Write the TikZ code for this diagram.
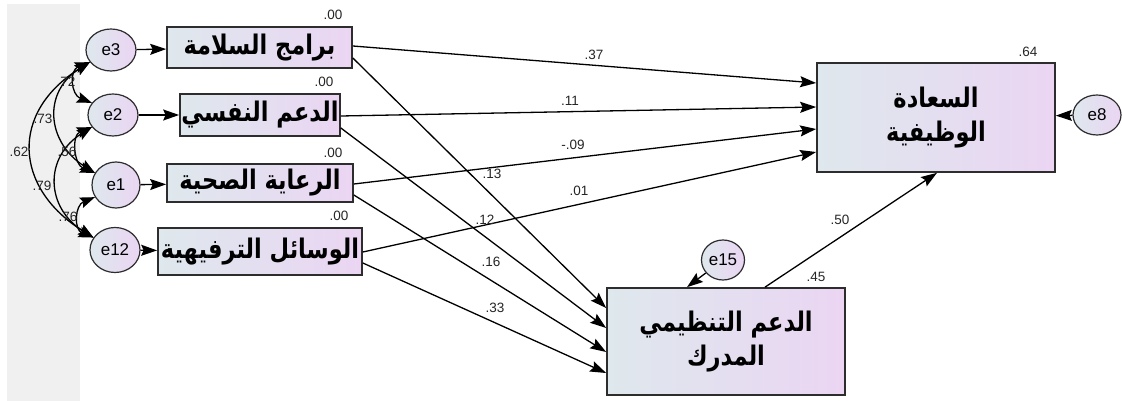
\documentclass[tikz,border=0pt]{standalone}
\usepackage{fontspec}
\setmainfont{Liberation Sans}
\newfontfamily\arabicfont[Script=Arabic]{DejaVu Sans}
\TeXXeTstate=1
\usetikzlibrary{shapes.geometric,arrows.meta,calc}

\definecolor{boxleft}{RGB}{222,232,237}
\definecolor{boxright}{RGB}{235,213,243}
\definecolor{strip}{RGB}{240,240,240}
\definecolor{edge}{RGB}{45,45,45}

% Arabic label, stretched a little upward like a Naskh face
\newcommand{\arlabel}[1]{\scalebox{1}[1.2]{\beginR #1\endR}}

\tikzset{
  var/.style={draw=edge, line width=1.7pt, left color=boxleft, right color=boxright,
    inner sep=0pt, align=center,
    font=\arabicfont\bfseries\fontsize{22.5}{34}\selectfont},
  err/.style={ellipse, draw=edge, line width=1.2pt, left color=boxleft,
    right color=boxright, inner sep=0pt, font=\fontsize{17}{19}\selectfont},
  link/.style={line width=1.3pt, -{Stealth[length=16pt,width=11pt,inset=2.5pt]}},
  cov/.style={line width=1.3pt,
    {Stealth[length=15pt,width=11pt,inset=2.5pt]}-{Stealth[length=15pt,width=11pt,inset=2.5pt]}},
  est/.style={font=\fontsize{13.5}{15}\selectfont, text=black!85, inner sep=0pt},
}

\begin{document}
\begin{tikzpicture}[x=1pt, y=-1pt]
\useasboundingbox (0,0) rectangle (1122,401);
\fill[white] (0,0) rectangle (1122,401);
\fill[strip] (7,4) rectangle (80,401);

% observed exogenous variables
\node[var, minimum width=185pt, minimum height=41pt] (b1) at (259.5,47.5) {\arlabel{برامج السلامة}};
\node[var, minimum width=160pt, minimum height=42pt] (b2) at (260,115) {\arlabel{الدعم النفسي}};
\node[var, minimum width=186pt, minimum height=38pt] (b3) at (260,183) {\arlabel{الرعاية الصحية}};
\node[var, minimum width=204pt, minimum height=47pt] (b4) at (260,251.5) {\arlabel{الوسائل الترفيهية}};

% endogenous variables
\node[var, minimum width=238pt, minimum height=109pt] (hap) at (936,117.5)
  {\arlabel{السعادة}\\\arlabel{الوظيفية}};
\node[var, minimum width=238pt, minimum height=107pt] (med) at (726,341.5)
  {\arlabel{الدعم التنظيمي}\\\arlabel{المدرك}};

% error terms
\node[err, minimum width=50pt, minimum height=42pt] (e3) at (111,50) {e3};
\node[err, minimum width=50pt, minimum height=42pt] (e2) at (113,115) {e2};
\node[err, minimum width=48pt, minimum height=46pt] (e1) at (116,185) {e1};
\node[err, minimum width=50pt, minimum height=45pt] (e12) at (115,250) {e12};
\node[err, minimum width=48pt, minimum height=40pt] (e8) at (1097,115) {e8};
\node[err, minimum width=43pt, minimum height=40pt] (e15) at (723,260) {e15};

% error paths
\draw[link] (e3) -- (b1);
\draw[link] (e2) -- (b2);
\draw[link] (e1) -- (b3);
\draw[link] (e12) -- (b4);
\draw[link] (e8) -- (hap);
\draw[link] (e15) -- ([xshift=-39pt]med.north);

% structural paths
\draw[link] ([yshift=1.5pt]b1.east) -- ([yshift=34.5pt]hap.west);
\draw[link] ([yshift=-1pt]b2.east) -- ([yshift=10.5pt]hap.west);
\draw[link] ([yshift=-1pt]b3.east) -- ([yshift=-11.5pt]hap.west);
\draw[link] ([yshift=-0.5pt]b4.east) -- ([yshift=-34.5pt]hap.west);
\draw[link] ([yshift=-10.5pt]b1.east) -- ([yshift=33.5pt]med.west);
\draw[link] ([yshift=-13pt]b2.east) -- ([yshift=13.5pt]med.west);
\draw[link] ([yshift=-12pt]b3.east) -- ([yshift=-10.5pt]med.west);
\draw[link] ([yshift=-11.5pt]b4.east) -- ([yshift=-31.5pt]med.west);
\draw[link] ([xshift=39pt]med.north) -- ([xshift=1pt]hap.south);

% covariances among the error terms
\draw[cov] (e3.210) .. controls +(-21,8) and +(-21,-8) .. (e2.150);
\draw[cov] (e2.210) .. controls +(-21,8) and +(-21,-8) .. (e1.150);
\draw[cov] (e1.210) .. controls +(-20,8) and +(-20,-8) .. (e12.150);
\draw[cov] (e3.210) .. controls +(-48,30) and +(-48,-30) .. (e1.150);
\draw[cov] (e2.210) .. controls +(-48,30) and +(-48,-30) .. (e12.150);
\draw[cov] (e3.210) .. controls +(-80,50) and +(-80,-50) .. (e12.150);

% estimates
\node[est] (r1) at (333,15) {.00};
\node[est] (r2) at (324,82) {.00};
\node[est] (r3) at (333,153) {.00};
\node[est] (r4) at (339,216) {.00};
\node[est] (r5) at (1028,52) {.64};
\node[est] (r6) at (816,277) {.45};
\node[est] (p1) at (840,220) {.50};
\node[est] (p2) at (594,55) {.37};
\node[est] (p3) at (570,101) {.11};
\node[est] (p4) at (573,145) {-.09};
\node[est] (p5) at (492,174) {.13};
\node[est] (p6) at (579,191) {.01};
\node[est] (p7) at (485,220) {.12};
\node[est] (p8) at (491,262) {.16};
\node[est] (p9) at (495,308) {.33};
\node[est] (c1) at (66,82) {.72};
\node[est] (c2) at (43,119) {.73};
\node[est] (c3) at (19,152) {.62};
\node[est] (c4) at (67,152) {.56};
\node[est] (c5) at (42,186) {.79};
\node[est] (c6) at (68,217) {.76};
\end{tikzpicture}
\end{document}
